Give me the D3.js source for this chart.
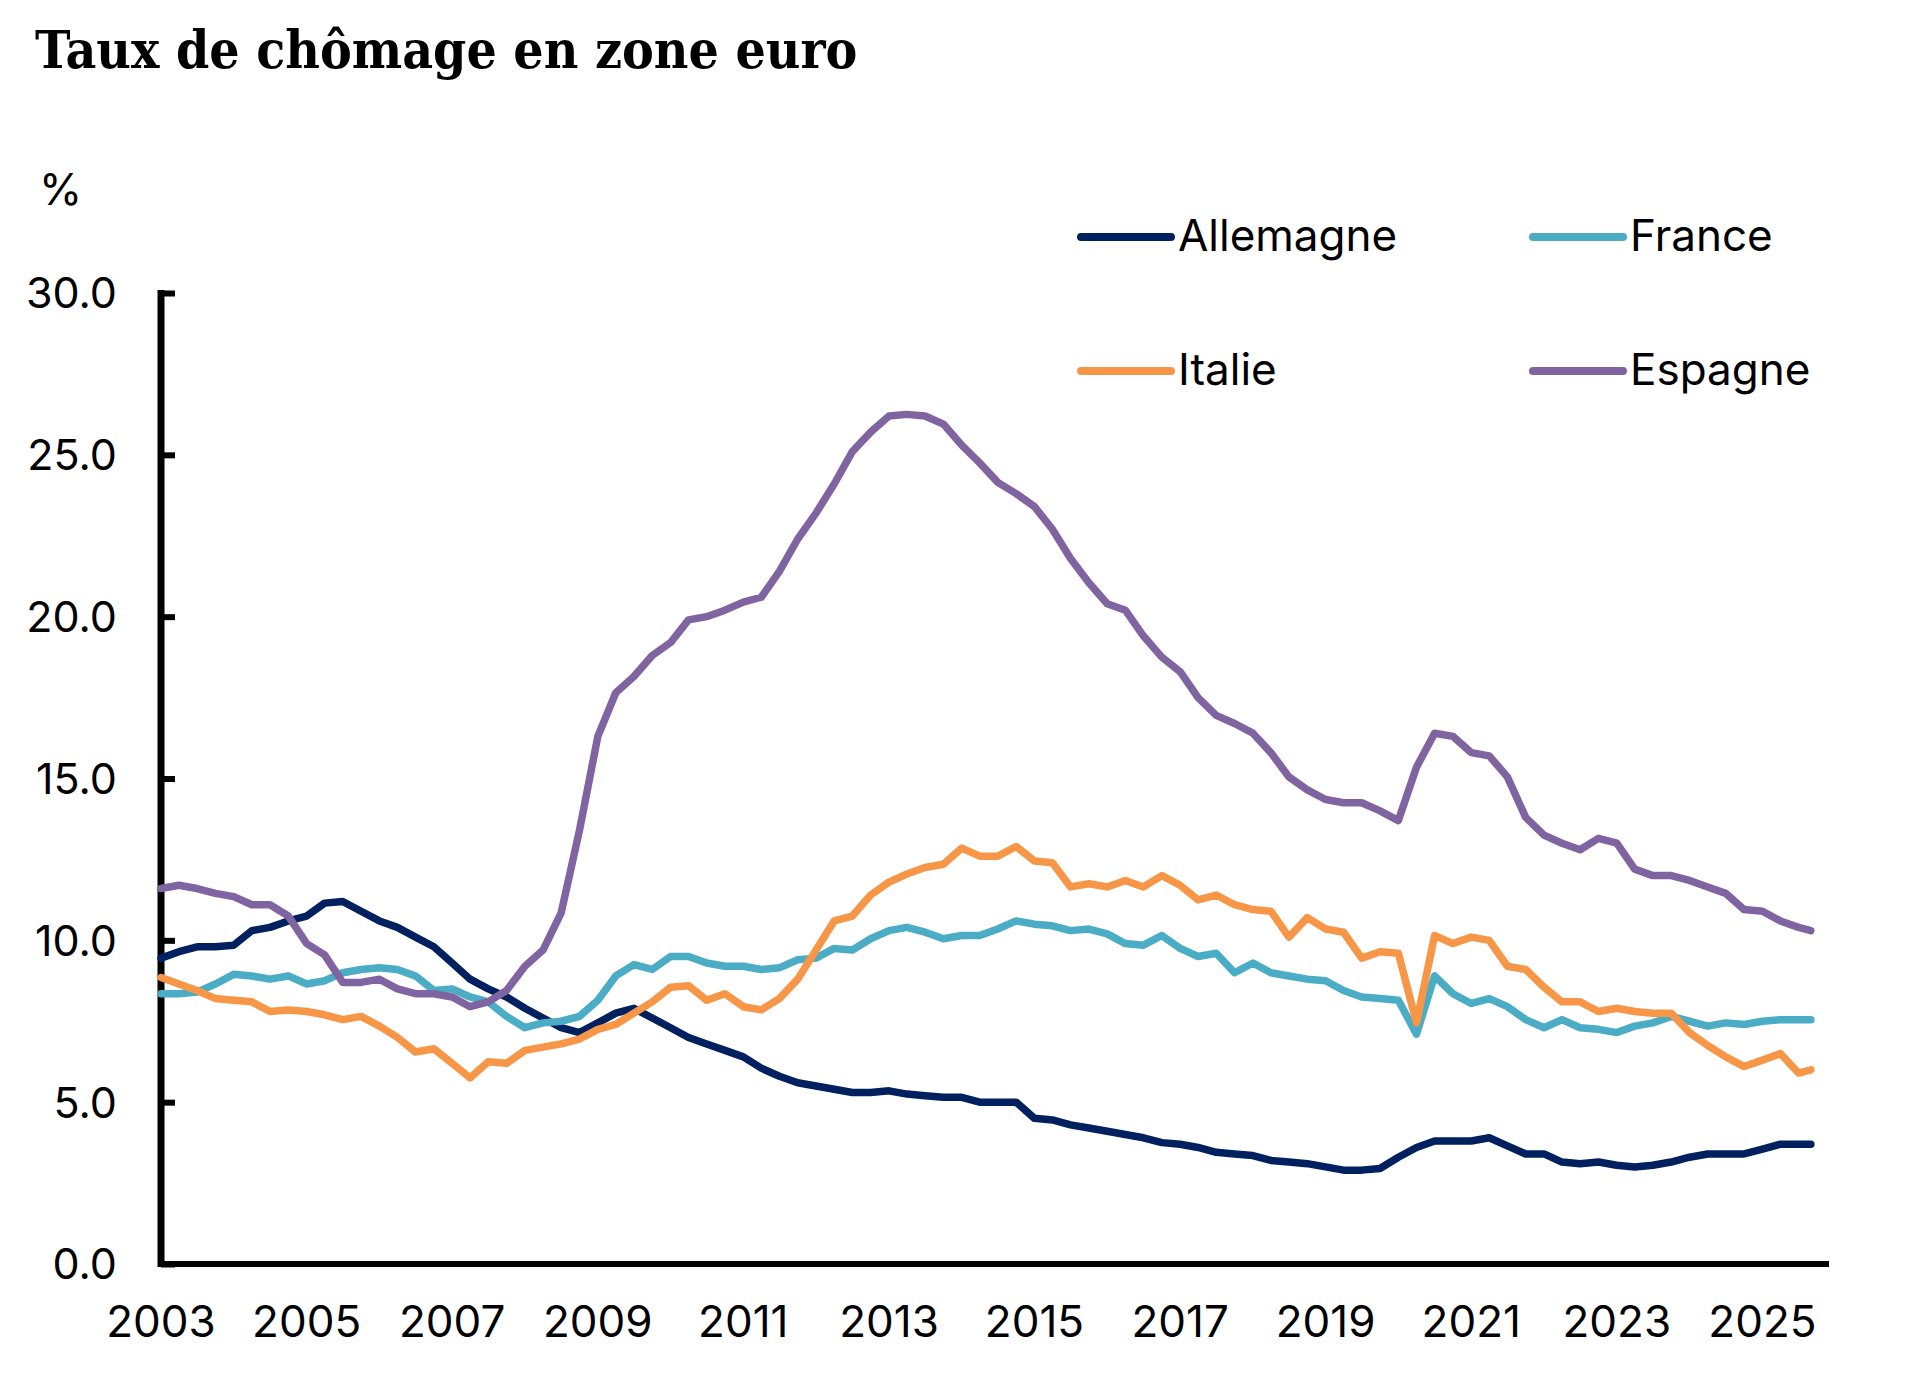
<!DOCTYPE html>
<html>
<head>
<meta charset="utf-8">
<script src="https://cdn.jsdelivr.net/npm/d3@7"></script>
<style>
  body { margin: 0; background: #ffffff; }
  svg { display: block; }
</style>
</head>
<body>
<script>
// quarterly readings (Jan, Apr, Jul, Oct) from Jan 2003, last point Sep 2025
var allemagne = [
  9.45, 9.65, 9.8, 9.8,   9.85, 10.3, 10.4, 10.6,   10.75, 11.15, 11.2, 10.9,
  10.6, 10.4, 10.1, 9.8,  9.3, 8.8, 8.5, 8.25,      7.9, 7.6, 7.3, 7.15,
  7.45, 7.75, 7.9, 7.6,   7.3, 7.0, 6.8, 6.6,       6.4, 6.05, 5.8, 5.6,
  5.5, 5.4, 5.3, 5.3,     5.35, 5.25, 5.2, 5.15,    5.15, 5.0, 5.0, 5.0,
  4.5, 4.45, 4.3, 4.2,    4.1, 4.0, 3.9, 3.75,      3.7, 3.6, 3.45, 3.4,
  3.35, 3.2, 3.15, 3.1,   3.0, 2.9, 2.9, 2.95,      3.3, 3.6, 3.8, 3.8,
  3.8, 3.9, 3.65, 3.4,    3.4, 3.15, 3.1, 3.15,     3.05, 3.0, 3.05, 3.15,
  3.3, 3.4, 3.4, 3.4,     3.55, 3.7, 3.7, 3.7
];
var france = [
  8.35, 8.35, 8.4, 8.65,  8.95, 8.9, 8.8, 8.9,      8.65, 8.75, 9.0, 9.1,
  9.15, 9.1, 8.9, 8.45,   8.5, 8.25, 8.1, 7.65,     7.3, 7.45, 7.5, 7.65,
  8.15, 8.9, 9.25, 9.1,   9.5, 9.5, 9.3, 9.2,       9.2, 9.1, 9.15, 9.4,
  9.45, 9.75, 9.7, 10.05, 10.3, 10.4, 10.25, 10.05, 10.15, 10.15, 10.35, 10.6,
  10.5, 10.45, 10.3, 10.35, 10.2, 9.9, 9.85, 10.15, 9.75, 9.5, 9.6, 9.0,
  9.3, 9.0, 8.9, 8.8,     8.75, 8.45, 8.25, 8.2,    8.15, 7.1, 8.9, 8.35,
  8.05, 8.2, 7.95, 7.55,  7.3, 7.55, 7.3, 7.25,     7.15, 7.35, 7.45, 7.65,
  7.5, 7.35, 7.45, 7.4,   7.5, 7.55, 7.55, 7.55
];
var italie = [
  8.85, 8.65, 8.45, 8.2,  8.15, 8.1, 7.8, 7.85,     7.8, 7.7, 7.55, 7.65,
  7.35, 7.0, 6.55, 6.65,  6.2, 5.75, 6.25, 6.2,     6.6, 6.7, 6.8, 6.95,
  7.25, 7.4, 7.75, 8.1,   8.55, 8.6, 8.15, 8.35,    7.95, 7.85, 8.2, 8.8,
  9.7, 10.6, 10.75, 11.4, 11.8, 12.05, 12.25, 12.35, 12.85, 12.6, 12.6, 12.9,
  12.45, 12.4, 11.65, 11.75, 11.65, 11.85, 11.65, 12.0, 11.7, 11.25, 11.4, 11.1,
  10.95, 10.9, 10.1, 10.7, 10.35, 10.25, 9.45, 9.65, 9.6, 7.45, 10.15, 9.9,
  10.1, 10.0, 9.2, 9.1,   8.55, 8.1, 8.1, 7.8,      7.9, 7.8, 7.75, 7.75,
  7.15, 6.75, 6.4, 6.1,   6.3, 6.5, 5.9, 6.0
];
var espagne = [
  11.6, 11.7, 11.6, 11.45, 11.35, 11.1, 11.1, 10.75, 9.9, 9.55, 8.7, 8.7,
  8.8, 8.5, 8.35, 8.35,   8.25, 7.95, 8.1, 8.45,    9.2, 9.7, 10.85, 13.4,
  16.3, 17.65, 18.15, 18.8, 19.2, 19.9, 20.0, 20.2, 20.45, 20.6, 21.4, 22.4,
  23.2, 24.1, 25.1, 25.7, 26.2, 26.25, 26.2, 25.95, 25.3, 24.75, 24.15, 23.8,
  23.4, 22.7, 21.8, 21.05, 20.4, 20.2, 19.4, 18.75, 18.3, 17.5, 16.95, 16.7,
  16.4, 15.8, 15.05, 14.65, 14.35, 14.25, 14.25, 14.0, 13.7, 15.35, 16.4, 16.3,
  15.8, 15.7, 15.05, 13.8, 13.25, 13.0, 12.8, 13.15, 13.0, 12.2, 12.0, 12.0,
  11.85, 11.65, 11.45, 10.95, 10.9, 10.6, 10.4, 10.3
];

var dates = d3.timeMonth.range(new Date(2003, 0, 1), new Date(2025, 7, 1), 3);
dates.push(new Date(2025, 8, 1));

var seriesNames = ["Allemagne", "France", "Italie", "Espagne"];
var seriesColors = ["#002060", "#4BACC6", "#F79646", "#8064A2"];
var seriesValues = [allemagne, france, italie, espagne];

var yTicks = [0, 5, 10, 15, 20, 25, 30];
var xTickYears = [2003, 2005, 2007, 2009, 2011, 2013, 2015, 2017, 2019, 2021, 2023, 2025];

var w = 1920;
var h = 1374;

var svg = d3.select("body")
            .append("svg")
            .attr("width", w)
            .attr("height", h);

var x = d3.scaleTime()
          .domain([new Date(2003, 0, 1), new Date(2025, 11, 1)])
          .range([161, 1829]);

var y = d3.scaleLinear()
          .domain([0, 30])
          .range([1264, 293]);

// title
svg.append("text")
   .attr("x", 35)
   .attr("y", 68)
   .attr("font-family", "'DejaVu Serif Condensed', 'DejaVu Serif', serif")
   .attr("font-weight", "bold")
   .attr("font-size", 53)
   .attr("fill", "#000")
   .text("Taux de chômage en zone euro");

svg.append("text")
   .attr("x", 39)
   .attr("y", 205)
   .attr("font-family", "Inter, sans-serif")
   .attr("font-size", 44)
   .attr("fill", "#000")
   .text("%");

// y axis
var yAxis = svg.append("g")
               .attr("transform", "translate(161,0)")
               .call(d3.axisRight(y)
                       .tickValues(yTicks)
                       .tickSize(14)
                       .tickFormat(""));
yAxis.select(".domain").remove();
yAxis.selectAll(".tick line")
     .attr("stroke", "#000")
     .attr("stroke-width", 6);

svg.append("line")
   .attr("x1", 161)
   .attr("y1", 290)
   .attr("x2", 161)
   .attr("y2", 1267)
   .attr("stroke", "#000")
   .attr("stroke-width", 7);

svg.selectAll(".ylab")
   .data(yTicks)
   .enter()
   .append("text")
   .attr("class", "ylab")
   .attr("x", 117)
   .attr("y", function(d) { return y(d); })
   .attr("dy", "0.36em")
   .attr("text-anchor", "end")
   .attr("font-family", "Inter, sans-serif")
   .attr("font-size", 43)
   .attr("fill", "#000")
   .text(function(d) { return d.toFixed(1); });

// x axis
svg.append("line")
   .attr("x1", 158)
   .attr("y1", 1264)
   .attr("x2", 1829)
   .attr("y2", 1264)
   .attr("stroke", "#000")
   .attr("stroke-width", 6);

svg.selectAll(".xlab")
   .data(xTickYears)
   .enter()
   .append("text")
   .attr("class", "xlab")
   .attr("x", function(d) { return x(new Date(d, 0, 1)); })
   .attr("y", 1337)
   .attr("text-anchor", "middle")
   .attr("font-family", "Inter, sans-serif")
   .attr("font-size", 44)
   .attr("fill", "#000")
   .text(function(d) { return d; });

// series
var line = d3.line()
             .x(function(d, i) { return x(dates[i]); })
             .y(function(d) { return y(d); });

svg.selectAll(".serie")
   .data(seriesValues)
   .enter()
   .append("path")
   .attr("class", "serie")
   .attr("d", function(d) { return line(d); })
   .attr("fill", "none")
   .attr("stroke", function(d, i) { return seriesColors[i]; })
   .attr("stroke-width", 7.5)
   .attr("stroke-linejoin", "round")
   .attr("stroke-linecap", "round");

// legend
var legendX = [1081, 1533];
var legendY = [237, 371];

var legend = svg.selectAll(".legend")
                .data(seriesNames)
                .enter()
                .append("g")
                .attr("class", "legend")
                .attr("transform", function(d, i) {
                  return "translate(" + legendX[i % 2] + "," + legendY[Math.floor(i / 2)] + ")";
                });

legend.append("line")
      .attr("x1", 0)
      .attr("x2", 90)
      .attr("stroke", function(d, i) { return seriesColors[i]; })
      .attr("stroke-width", 8)
      .attr("stroke-linecap", "round");

legend.append("text")
      .attr("x", 97)
      .attr("y", 14)
      .attr("font-family", "Inter, sans-serif")
      .attr("font-size", 44)
      .attr("fill", "#000")
      .text(function(d) { return d; });
</script>
</body>
</html>
